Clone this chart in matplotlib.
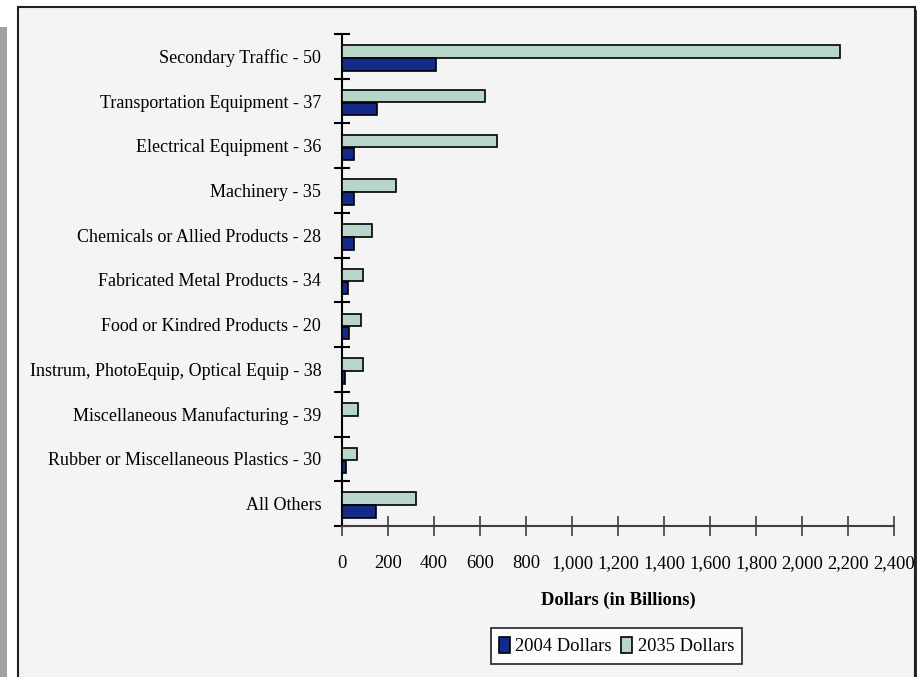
import matplotlib
matplotlib.use("Agg")
import matplotlib.pyplot as plt
from matplotlib.patches import Rectangle
from matplotlib.ticker import FuncFormatter, MultipleLocator
import numpy as np

categories = [
    "Secondary Traffic - 50",
    "Transportation Equipment - 37",
    "Electrical Equipment - 36",
    "Machinery - 35",
    "Chemicals or Allied Products - 28",
    "Fabricated Metal Products - 34",
    "Food or Kindred Products - 20",
    "Instrum, PhotoEquip, Optical Equip - 38",
    "Miscellaneous Manufacturing - 39",
    "Rubber or Miscellaneous Plastics - 30",
    "All Others",
]
dollars_2004 = [407, 154, 52, 52, 52, 25, 30, 13, 0, 18, 149]
dollars_2035 = [2167, 620, 672, 233, 130, 90, 84, 90, 70, 64, 323]
series_names = ["2004 Dollars", "2035 Dollars"]
x_ticks = list(range(0, 2401, 200))

plt.rcParams["font.family"] = ["Liberation Serif", "DejaVu Serif"]

W, H = 920, 677
fig = plt.figure(figsize=(W / 100, H / 100), dpi=100)
fig.patch.set_facecolor("white")

def fx(px):
    return px / W

def fy(py):
    return 1 - py / H

# left grey strip
fig.patches.append(Rectangle((fx(0), fy(H + 5)), fx(7), fy(27) - fy(H + 5),
                             transform=fig.transFigure, facecolor="#a0a0a0",
                             edgecolor="none", zorder=0))
# panel shadow
fig.patches.append(Rectangle((fx(21), fy(H + 5)), fx(917) - fx(21), fy(10) - fy(H + 5),
                             transform=fig.transFigure, facecolor="#303030",
                             edgecolor="none", zorder=0))
# panel
fig.patches.append(Rectangle((fx(18), fy(H + 5)), fx(915) - fx(18), fy(7) - fy(H + 5),
                             transform=fig.transFigure, facecolor="#f4f4f4",
                             edgecolor="#202020", linewidth=1.5, zorder=0.5))

ax = fig.add_axes([fx(342), fy(526), fx(894) - fx(342), fy(34) - fy(526)])
ax.set_facecolor("none")
ax.set_zorder(2)

fs = 13.3
y = np.arange(len(categories))
h = 0.28
c2004 = "#132a8a"
c2035 = "#b8d5c9"
ax.barh(y - 0.11, dollars_2035, height=h, color=c2035, edgecolor="black",
        linewidth=1.2, label=series_names[1], zorder=3)
ax.barh(y + 0.18, dollars_2004, height=h, color=c2004, edgecolor="black",
        linewidth=1.2, label=series_names[0], zorder=3)

ax.set_ylim(len(categories) - 0.5, -0.5)
ax.set_xlim(0, 2400)

ax.set_yticks(y)
ax.set_yticklabels(categories, fontsize=13)
ax.set_yticks(np.arange(-0.5, len(categories), 1.0), minor=True)
ax.tick_params(axis="y", which="major", length=0, pad=15)
ax.tick_params(axis="y", which="minor", direction="inout", length=12, width=1.5, color="black")

ax.set_xticks(x_ticks)
ax.xaxis.set_major_formatter(FuncFormatter(lambda v, p: f"{int(v):,}"))
ax.tick_params(axis="x", which="major", direction="inout", length=14, width=1.2,
               color="#404040", labelsize=fs, pad=14)
ax.xaxis.set_minor_locator(MultipleLocator(10000))

for s in ["top", "right"]:
    ax.spines[s].set_visible(False)
ax.spines["left"].set_color("black")
ax.spines["left"].set_linewidth(1.5)
ax.spines["bottom"].set_color("#404040")
ax.spines["bottom"].set_linewidth(1.5)

ax.set_xlabel("Dollars (in Billions)", fontsize=fs, fontweight="bold", labelpad=14)

handles, labels = ax.get_legend_handles_labels()
order = [1, 0]
leg = fig.legend([handles[i] for i in order], [labels[i] for i in order],
                 loc="center", bbox_to_anchor=(fx(616.5), fy(646)), ncol=2,
                 fontsize=fs, frameon=True, fancybox=False, edgecolor="black",
                 handlelength=0.6, handleheight=1.0, handletextpad=0.3,
                 columnspacing=0.5, borderpad=0.45, borderaxespad=0)
leg.get_frame().set_linewidth(1.3)
leg.get_frame().set_facecolor("white")
leg.set_zorder(3)

fig.savefig("out.png", dpi=100)
